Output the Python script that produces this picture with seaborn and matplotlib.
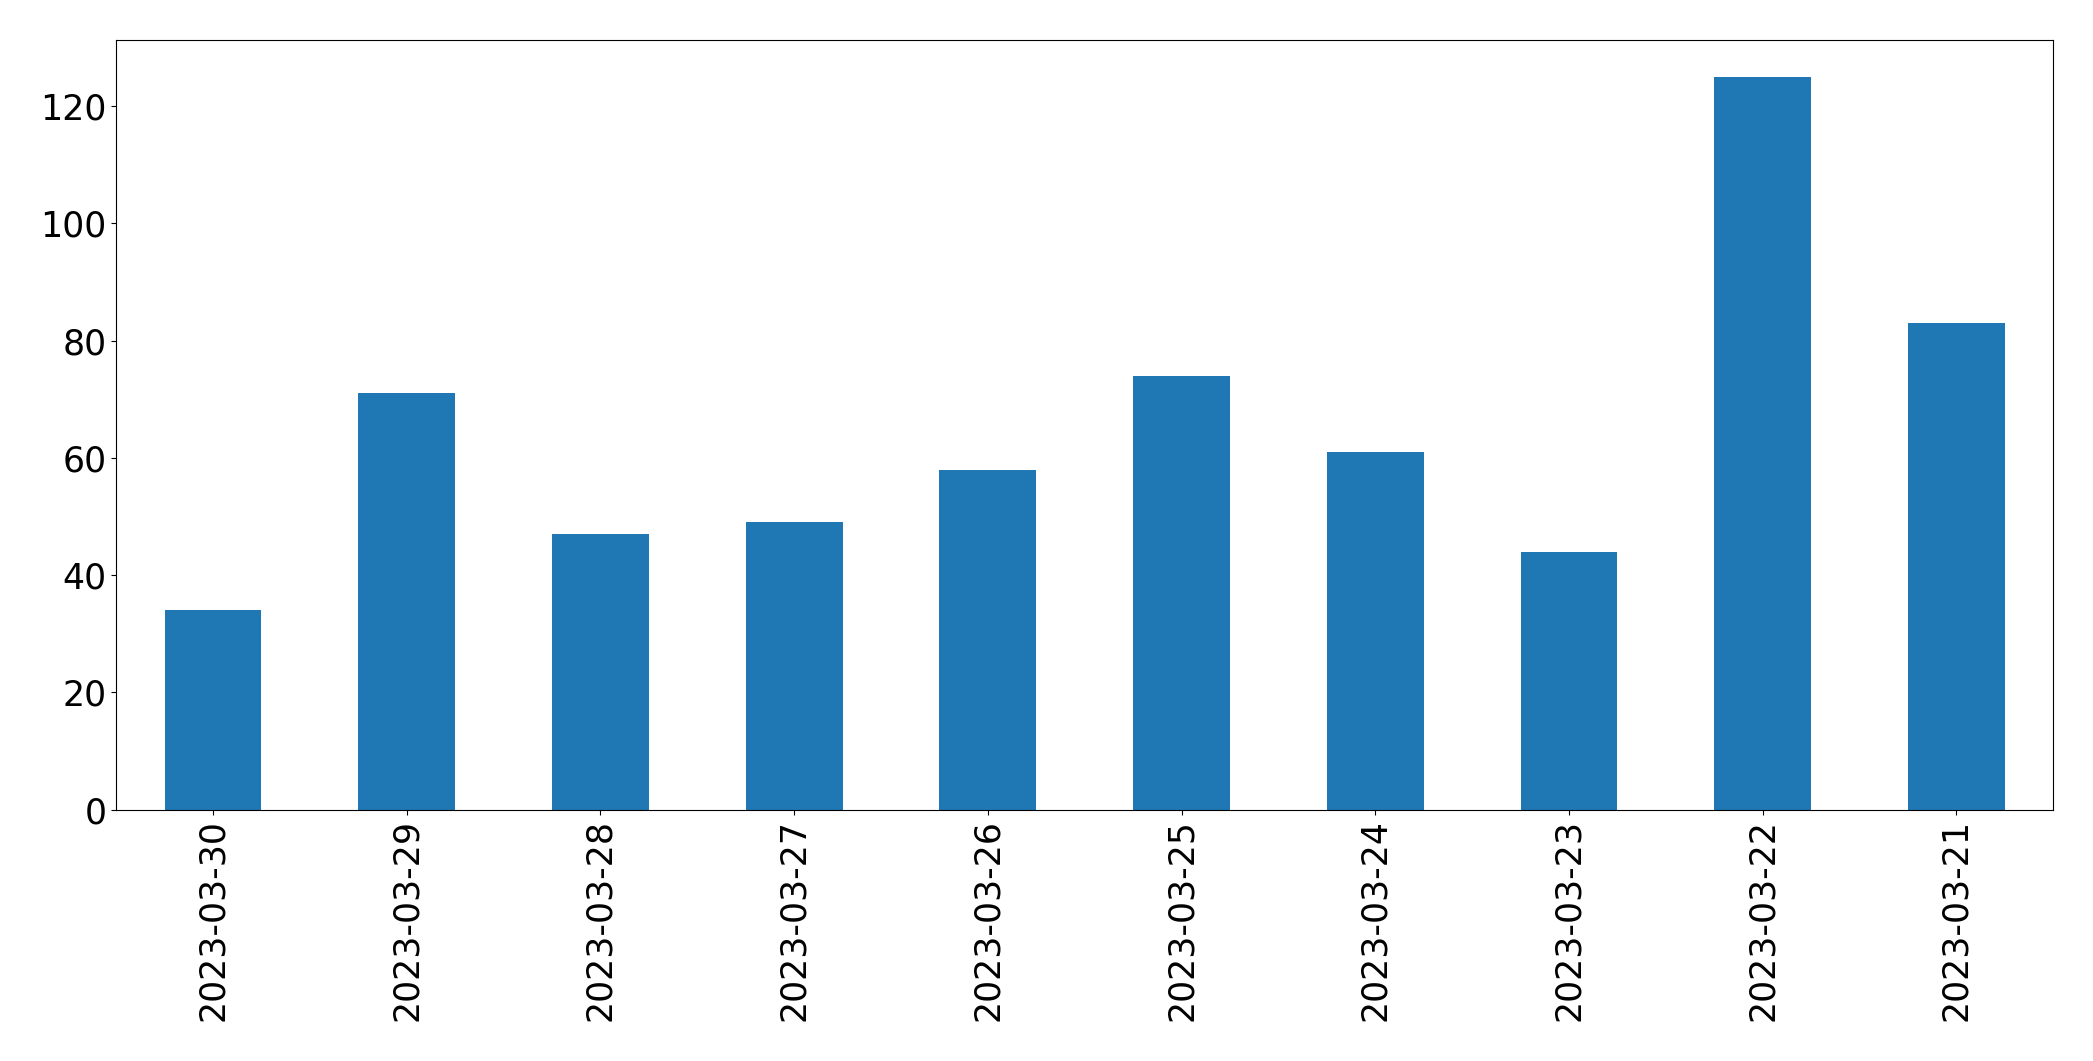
import matplotlib
matplotlib.use("Agg")
import pandas as pd
import seaborn as sns
import matplotlib.pyplot as plt

dates = ["2023-03-30", "2023-03-29", "2023-03-28", "2023-03-27", "2023-03-26",
         "2023-03-25", "2023-03-24", "2023-03-23", "2023-03-22", "2023-03-21"]
counts = [34, 71, 47, 49, 58, 74, 61, 44, 125, 83]

df = pd.DataFrame({"date": dates, "count": counts})

fig, ax = plt.subplots(figsize=(20.93, 10.61), dpi=100)
fig.subplots_adjust(left=0.0555, right=0.981, top=0.962, bottom=0.237)

sns.barplot(data=df, x="date", y="count", order=dates, color="#1f77b4",
            saturation=1, width=0.5, ax=ax)

ax.set_xlim(-0.5, len(dates) - 0.5)
ax.set_ylim(0, max(counts) * 1.05)
ax.set_xlabel("")
ax.set_ylabel("")
ax.tick_params(axis="both", labelsize=25)
ax.tick_params(axis="x", labelrotation=90)
for s in ax.spines.values():
    s.set_color("black")

fig.savefig("out.png", dpi=100)
